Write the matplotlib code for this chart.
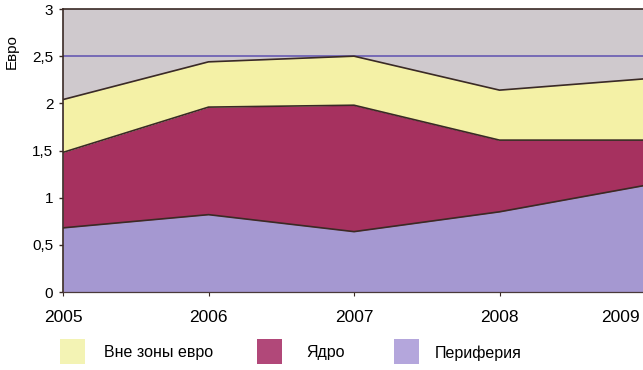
import matplotlib
matplotlib.use("Agg")
import matplotlib.pyplot as plt
from matplotlib.patches import Rectangle
from matplotlib.transforms import ScaledTranslation

years = [2005, 2006, 2007, 2008, 2009]
periphery = [0.68, 0.82, 0.64, 0.85, 1.13]
core = [0.80, 1.14, 1.34, 0.76, 0.48]
outside_euro = [0.56, 0.48, 0.52, 0.53, 0.65]

series_labels = ["Вне зоны евро", "Ядро", "Периферия"]
y_ticks = [0, 0.5, 1, 1.5, 2, 2.5, 3]
y_tick_labels = ["0", "0,5", "1", "1,5", "2", "2,5", "3"]

plt.rcParams["font.family"] = ["Liberation Sans", "DejaVu Sans"]

c_per = "#a598d1"
c_core = "#a6315f"
c_out = "#f4f1a6"
c_bg = "#cfc9cd"
c_edge = "#3a2a25"

W, H = 643, 370
fig = plt.figure(figsize=(W / 100, H / 100), dpi=100)
fig.patch.set_facecolor("white")

left, right, top, bottom = 63, 645, 9, 292
ax = fig.add_axes([left / W, 1 - bottom / H, (right - left) / W, (bottom - top) / H])
ax.set_facecolor(c_bg)

lower = [0.0] * len(years)
layers = [(periphery, c_per), (core, c_core), (outside_euro, c_out)]
for vals, col in layers:
    upper = [a + b for a, b in zip(lower, vals)]
    ax.fill_between(years, lower, upper, color=col, lw=0, zorder=2)
    ax.plot(years, upper, color=c_edge, lw=1.2, zorder=3)
    lower = upper

ax.axhline(2.5, color="#6f63b4", lw=1.3, zorder=1)

ax.set_xlim(2005, 2009)
ax.set_ylim(0, 3)
ax.set_yticks(y_ticks)
ax.set_yticklabels(y_tick_labels, fontsize=11)
ax.set_xticks(years)
ax.set_xticklabels([str(y) for y in years], fontsize=12.5)
ax.tick_params(axis="y", length=3, width=1, color=c_edge, pad=4)
ax.tick_params(axis="x", length=3, width=0.8, color=c_edge, pad=10)
# the last year sits on the right edge: keep its label inside the canvas
last = ax.get_xticklabels()[-1]
last.set_horizontalalignment("right")
last.set_transform(last.get_transform()
                   + ScaledTranslation(-5 / 100, 0, fig.dpi_scale_trans))
for s in ["left", "top"]:
    ax.spines[s].set_color(c_edge)
    ax.spines[s].set_linewidth(1.2)
ax.spines["bottom"].set_color("#4a3a3a")
ax.spines["bottom"].set_linewidth(0.9)
ax.spines["right"].set_visible(False)

fig.text(12 / W, 1 - 52 / H, "Евро", rotation=90, fontsize=11,
         ha="center", va="center")

# legend drawn in figure coordinates
legend_items = [
    (60, 104, "#f3f3b4", series_labels[0]),
    (257, 306, "#b14879", series_labels[1]),
    (394, 435, "#b4a6dc", series_labels[2]),
]
for px, tx, col, lab in legend_items:
    fig.patches.append(Rectangle((px / W, 1 - 364 / H), 25 / W, 25 / H,
                                 transform=fig.transFigure, color=col, lw=0))
    fig.text(tx / W, 1 - 353 / H, lab, fontsize=11.5, ha="left", va="center")

fig.savefig("out.png", dpi=100)
